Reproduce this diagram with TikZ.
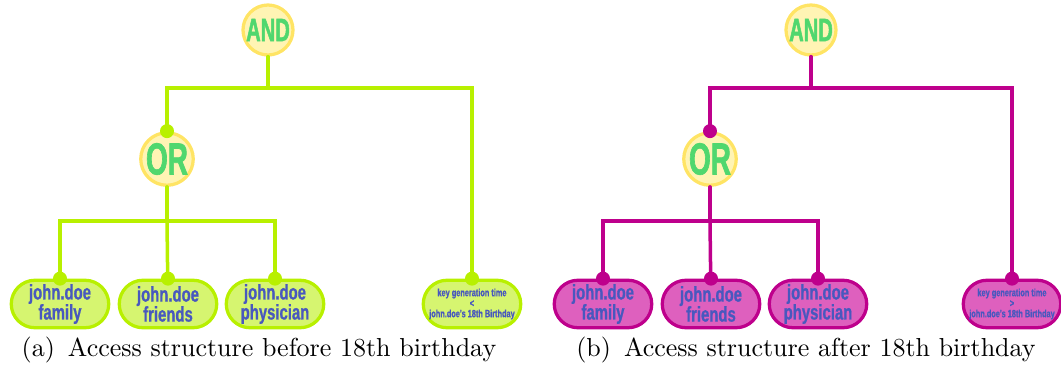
\documentclass[tikz,border=0pt]{standalone}
\usepackage{fontspec}
\usepackage{xcolor}
\usepackage{tikz}
\usetikzlibrary{
	positioning,
	shapes.misc
}
\newfontfamily\gatefont[FakeStretch=0.62,FakeBold=1.4]{Liberation Sans}
\newfontfamily\condfont[FakeStretch=0.7,FakeBold=0.8]{Liberation Sans}
\definecolor{LimeLine}{RGB}{184,240,0}
\definecolor{LimeFill}{RGB}{214,245,112}
\definecolor{PlumLine}{RGB}{190,0,140}
\definecolor{PlumFill}{RGB}{222,96,190}
\definecolor{LeafText}{RGB}{72,88,190}
\definecolor{GateText}{RGB}{80,215,110}
\definecolor{GateFill}{RGB}{255,244,180}
\definecolor{GateRing}{RGB}{255,228,100}
\tikzset{
	gate/.style={circle, draw=GateRing, fill=GateFill, line width=1.3pt, minimum size=20pt, inner sep=0pt, text=GateText},
	leaf/.style={rounded rectangle, line width=1.3pt, minimum width=39pt, minimum height=19pt, inner sep=0pt, text=LeafText, align=center, font=\condfont\bfseries\fontsize{8.5}{8}\selectfont},
	tiny/.style={font=\condfont\bfseries\fontsize{4.2}{4.2}\selectfont},
	link/.style={line width=1.4pt, line cap=round},
	caption/.style={anchor=base, font=\fontsize{10.4}{12}\selectfont}
}

\begin{document}
\begin{tikzpicture}[x=0.4pt, y=-0.4pt]
	\useasboundingbox (0,0) rectangle (1061,372);

	% (a) before
	\node[gate, font=\gatefont\bfseries\fontsize{13}{13}\selectfont] (andA) at (268,30) {AND};
	\node[gate, font=\gatefont\bfseries\fontsize{18}{18}\selectfont] (orA) at (167,159) {OR};
	\node[leaf, draw=LimeLine, fill=LimeFill] (famA) at (60,304) {john.doe\\family};
	\node[leaf, draw=LimeLine, fill=LimeFill] (friA) at (168,304) {john.doe\\friends};
	\node[leaf, draw=LimeLine, fill=LimeFill] (phyA) at (275,304) {john.doe\\physician};
	\node[leaf, tiny, draw=LimeLine, fill=LimeFill] (keyA) at (472,304) {key generation time\\<\\john.doe's 18th Birthday};
	\coordinate (splitA) at (268,88);
	\coordinate (branchA) at (167,221);

	\draw[link, LimeLine] (andA) -- (splitA);
	\draw[link, LimeLine] (splitA) -| (orA);
	\draw[link, LimeLine] (splitA) -| (keyA);
	\draw[link, LimeLine] (orA) -- (branchA);
	\draw[link, LimeLine] (branchA) -| (famA);
	\draw[link, LimeLine] (branchA) -- (friA);
	\draw[link, LimeLine] (branchA) -| (phyA);

	\fill[LimeLine] (orA.north) circle (2.8pt);
	\fill[LimeLine] (famA.north) circle (2.8pt);
	\fill[LimeLine] (friA.north) circle (2.8pt);
	\fill[LimeLine] (phyA.north) circle (2.8pt);
	\fill[LimeLine] (keyA.north) circle (2.8pt);

	\node[caption] (capA) at (259,357) {(a)\enspace Access structure before 18th birthday};

	% (b) after
	\node[gate, font=\gatefont\bfseries\fontsize{13}{13}\selectfont] (andB) at (811,30) {AND};
	\node[gate, font=\gatefont\bfseries\fontsize{18}{18}\selectfont] (orB) at (710,159) {OR};
	\node[leaf, draw=PlumLine, fill=PlumFill] (famB) at (603,304) {john.doe\\family};
	\node[leaf, draw=PlumLine, fill=PlumFill] (friB) at (711,304) {john.doe\\friends};
	\node[leaf, draw=PlumLine, fill=PlumFill] (phyB) at (818,304) {john.doe\\physician};
	\node[leaf, tiny, draw=PlumLine, fill=PlumFill] (keyB) at (1012,304) {key generation time\\>\\john.doe's 18th Birthday};
	\coordinate (splitB) at (811,88);
	\coordinate (branchB) at (710,221);

	\draw[link, PlumLine] (andB) -- (splitB);
	\draw[link, PlumLine] (splitB) -| (orB);
	\draw[link, PlumLine] (splitB) -| (keyB);
	\draw[link, PlumLine] (orB) -- (branchB);
	\draw[link, PlumLine] (branchB) -| (famB);
	\draw[link, PlumLine] (branchB) -- (friB);
	\draw[link, PlumLine] (branchB) -| (phyB);

	\fill[PlumLine] (orB.north) circle (2.8pt);
	\fill[PlumLine] (famB.north) circle (2.8pt);
	\fill[PlumLine] (friB.north) circle (2.8pt);
	\fill[PlumLine] (phyB.north) circle (2.8pt);
	\fill[PlumLine] (keyB.north) circle (2.8pt);

	\node[caption] (capB) at (806,357) {(b)\enspace Access structure after 18th birthday};
\end{tikzpicture}
\end{document}
